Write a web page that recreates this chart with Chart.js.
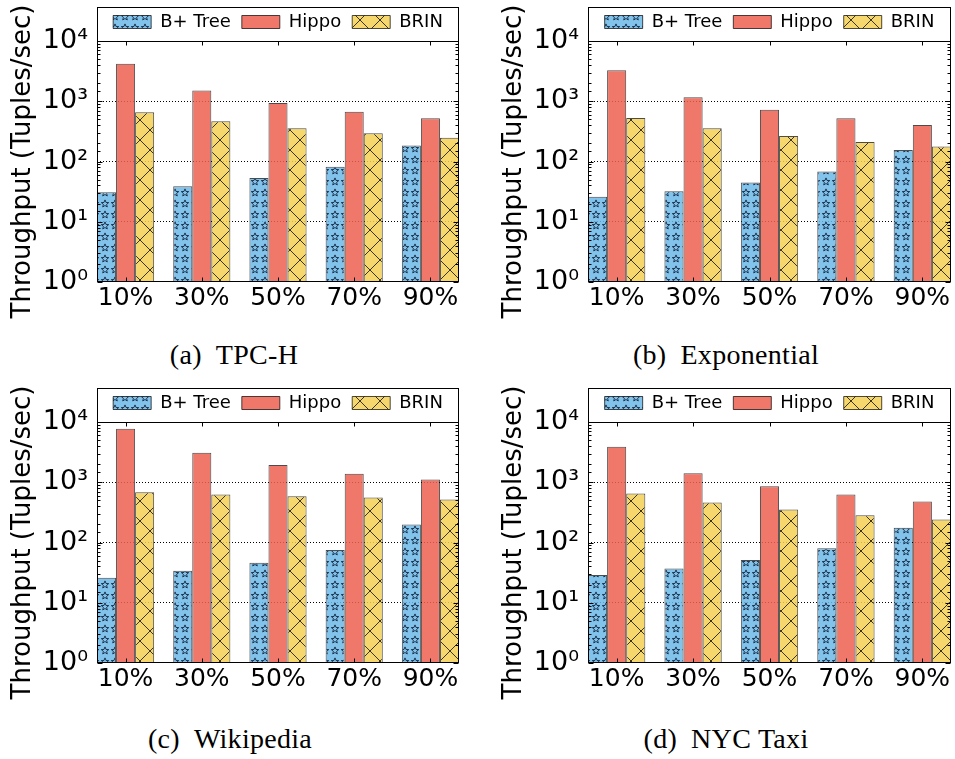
<!DOCTYPE html>
<html>
<head>
<meta charset="utf-8">
<script src="https://cdn.jsdelivr.net/npm/chart.js@4.4.0/dist/chart.umd.min.js"></script>
<style>
  html, body { margin: 0; padding: 0; background: #fff; }
  #fig { position: relative; width: 955px; height: 759px; background: #fff; overflow: hidden; }
  canvas { position: absolute; }
  .cap { position: absolute; width: 400px; text-align: center; font-family: "Liberation Serif", serif; font-size: 28px; letter-spacing: 0.3px; line-height: 30px; color: #000; }
  .cap span { margin-right: 14px; }
</style>
</head>
<body>
<div id="fig">
  <canvas id="chartA" width="480" height="320" style="left:0;top:0"></canvas>
  <canvas id="chartB" width="464" height="320" style="left:491px;top:0"></canvas>
  <canvas id="chartC" width="480" height="320" style="left:0;top:381px"></canvas>
  <canvas id="chartD" width="464" height="320" style="left:491px;top:381px"></canvas>
  <div class="cap" style="left:34px;top:340px"><span>(a)</span>TPC-H</div>
  <div class="cap" style="left:526px;top:340px"><span>(b)</span>Exponential</div>
  <div class="cap" style="left:30px;top:724px"><span>(c)</span>Wikipedia</div>
  <div class="cap" style="left:526px;top:724px"><span>(d)</span>NYC Taxi</div>
</div>
<script>
// données
const categories = ['10%', '30%', '50%', '70%', '90%'];
const seriesNames = ['B+ Tree', 'Hippo', 'BRIN'];

const tpchBTree = [31, 39, 53, 82, 184];
const tpchHippo = [4200, 1510, 935, 670, 520];
const tpchBrin = [655, 466, 357, 295, 247];

const expBTree = [26, 32, 45, 68, 155];
const expHippo = [3270, 1170, 725, 522, 405];
const expBrin = [527, 357, 264, 210, 178];

const wikiBTree = [26, 34, 46, 75, 199];
const wikiHippo = [7760, 3100, 1940, 1390, 1110];
const wikiBrin = [683, 625, 586, 557, 516];

const taxiBTree = [29, 37, 51, 80, 175];
const taxiHippo = [3900, 1410, 860, 625, 478];
const taxiBrin = [649, 460, 352, 284, 240];

const yTickValues = [1, 10, 100, 1000, 10000];
const yTickLabels = ['10\u2070', '10\u00B9', '10\u00B2', '10\u00B3', '10\u2074'];
const yTitle = 'Throughput (Tuples/sec)';

Chart.defaults.font.family = 'DejaVu Sans';
Chart.defaults.color = '#000';

function starPattern(fill) {
    var c = document.createElement('canvas');
    c.width = 10; c.height = 11;
    var g = c.getContext('2d');
    g.fillStyle = fill;
    g.fillRect(0, 0, 10, 11);
    g.strokeStyle = 'rgba(10,25,50,0.9)';
    g.lineWidth = 0.9;
    g.beginPath();
    for (var i = 0; i < 10; i++) {
        var r = i % 2 === 0 ? 3.9 : 1.7;
        var a = -Math.PI / 2 + i * Math.PI / 5;
        var px = 5 + r * Math.cos(a), py = 5.8 + r * Math.sin(a);
        if (i === 0) g.moveTo(px, py); else g.lineTo(px, py);
    }
    g.closePath();
    g.stroke();
    return g.createPattern(c, 'repeat');
}

function crossPattern(fill) {
    var c = document.createElement('canvas');
    c.width = 20; c.height = 20;
    var g = c.getContext('2d');
    g.fillStyle = fill;
    g.fillRect(0, 0, 20, 20);
    g.strokeStyle = 'rgba(0,0,0,0.75)';
    g.lineWidth = 1;
    g.beginPath();
    g.moveTo(-2, -2); g.lineTo(22, 22);
    g.moveTo(-2, 22); g.lineTo(22, -2);
    g.stroke();
    return g.createPattern(c, 'repeat');
}

const blueFill = starPattern('rgba(108,184,232,0.85)');
const redFill = 'rgba(236,96,80,0.85)';
const yellowFill = crossPattern('rgba(243,208,84,0.85)');

// cadre, petites graduations et cadre de la légende
const framePlugin = {
    id: 'frame',
    afterDraw(chart) {
        const ctx = chart.ctx;
        const a = chart.chartArea;
        const x = chart.scales.x, y = chart.scales.y;
        const L = Math.round(a.left) + 0.5, R = Math.round(a.right) - 0.5;
        const T = Math.round(a.top) + 0.5, B = Math.round(a.bottom) - 0.5;
        ctx.save();
        ctx.strokeStyle = '#000';
        ctx.lineWidth = 1;
        ctx.beginPath();
        y.ticks.forEach(function (t) {
            var py = Math.round(y.getPixelForValue(t.value)) + 0.5;
            var len = yTickValues.includes(t.value) ? 5 : 3;
            ctx.moveTo(L, py); ctx.lineTo(L + len, py);
            ctx.moveTo(R, py); ctx.lineTo(R - len, py);
        });
        x.ticks.forEach(function (t) {
            var px = Math.round(x.getPixelForValue(t.value)) + 0.5;
            ctx.moveTo(px, T); ctx.lineTo(px, T + 4);
            ctx.moveTo(px, B); ctx.lineTo(px, B - 4);
        });
        ctx.stroke();
        ctx.strokeRect(L, T, R - L, B - T);
        ctx.strokeRect(L, T - 34, R - L, 34);
        ctx.restore();
    }
};

function makeChart(id, bt, hp, br, padRight) {
    var ctx = document.getElementById(id).getContext('2d');
    var toXY = function (arr) { return arr.map(function (v, i) { return {x: i, y: v}; }); };
    return new Chart(ctx, {
        type: 'bar',
        data: {
            datasets: [{
                label: seriesNames[0],
                data: toXY(bt),
                backgroundColor: blueFill,
                borderColor: 'rgba(0,0,0,0.7)',
                borderWidth: 1
            }, {
                label: seriesNames[1],
                data: toXY(hp),
                backgroundColor: redFill,
                borderColor: 'rgba(0,0,0,0.7)',
                borderWidth: 1
            }, {
                label: seriesNames[2],
                data: toXY(br),
                backgroundColor: yellowFill,
                borderColor: 'rgba(0,0,0,0.7)',
                borderWidth: 1
            }]
        },
        options: {
            responsive: false,
            animation: false,
            layout: { padding: { top: 2, left: 0, right: padRight, bottom: 0 } },
            datasets: { bar: { categoryPercentage: 0.75, barPercentage: 1.0, borderSkipped: 'start' } },
            plugins: {
                tooltip: { enabled: false },
                legend: {
                    position: 'top',
                    fullSize: false,
                    labels: { font: { size: 18 }, boxWidth: 38, boxHeight: 13, padding: 11, color: '#000' }
                }
            },
            scales: {
                x: {
                    type: 'linear',
                    min: -0.375,
                    max: 4.375,
                    offset: false,
                    afterBuildTicks: function (s) { s.ticks = categories.map(function (c, i) { return {value: i}; }); },
                    afterFit: function (s) { s.height = 38; },
                    grid: { display: false, drawTicks: false, offset: false },
                    border: { display: false },
                    ticks: {
                        autoSkip: false, maxRotation: 0, padding: 1,
                        font: { size: 25 },
                        callback: function (v) { return categories[v]; }
                    }
                },
                y: {
                    type: 'logarithmic',
                    min: 1,
                    max: 10000,
                    afterFit: function (s) { s.width = 97; },
                    grid: {
                        drawTicks: false,
                        lineWidth: 1,
                        color: function (c) { return [10, 100, 1000].includes(c.tick && c.tick.value) ? '#000' : 'rgba(0,0,0,0)'; }
                    },
                    border: { display: false, dash: [1, 2] },
                    ticks: {
                        autoSkip: false, padding: 9,
                        font: { size: 27 },
                        callback: function (v) {
                            var k = yTickValues.indexOf(v);
                            return k >= 0 ? yTickLabels[k] : '';
                        }
                    },
                    title: { display: true, text: yTitle, font: { size: 26 }, padding: { top: 8, bottom: 0 } }
                }
            }
        },
        plugins: [framePlugin]
    });
}

makeChart('chartA', tpchBTree, tpchHippo, tpchBrin, 21);
makeChart('chartB', expBTree, expHippo, expBrin, 4);
makeChart('chartC', wikiBTree, wikiHippo, wikiBrin, 21);
makeChart('chartD', taxiBTree, taxiHippo, taxiBrin, 4);
</script>
</body>
</html>
